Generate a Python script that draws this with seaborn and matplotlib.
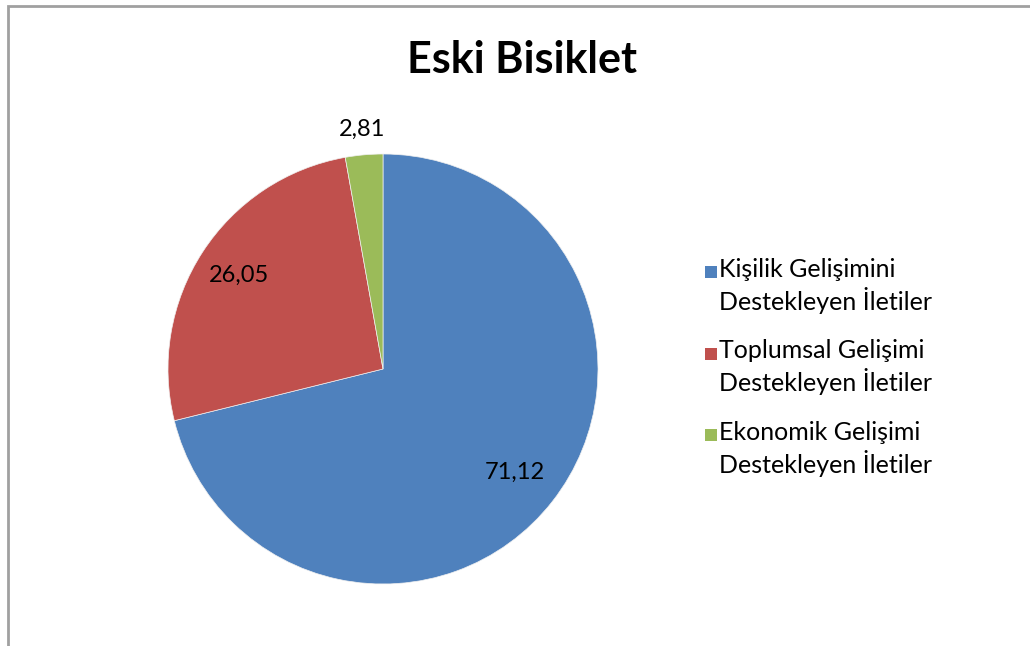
import numpy as np
import matplotlib
matplotlib.use("Agg")
import matplotlib.pyplot as plt
from matplotlib.patches import Rectangle
import seaborn as sns

# data
categories = [
    "Kişilik Gelişimini\nDestekleyen İletiler",
    "Toplumsal Gelişimi\nDestekleyen İletiler",
    "Ekonomik Gelişimi\nDestekleyen İletiler",
]
values = [71.12, 26.05, 2.81]
colors = ["#4F81BD", "#C0504D", "#9BBB59"]
title = "Eski Bisiklet"

sns.set_theme(style="white")
plt.rcParams["font.family"] = ["Lato", "DejaVu Sans"]

W, H = 1030, 646
fig = plt.figure(figsize=(W / 100, H / 100), dpi=100)
fig.patch.set_facecolor("white")

# chart border (Excel style, only top/left visible)
fig.add_artist(Rectangle((8 / W, -0.1), 1.2, 1.1 - 6 / H,
                         transform=fig.transFigure, fill=False,
                         edgecolor="#A0A0A0", linewidth=2))

ax = fig.add_axes([168 / W, 62 / H, 430 / W, 430 / H])
wedges, _ = ax.pie(values, colors=colors, startangle=90, counterclock=False,
                   radius=1, wedgeprops=dict(linewidth=0.5, edgecolor="#F0F0F0"))
ax.set_xlim(-1, 1)
ax.set_ylim(-1, 1)
ax.set_aspect("equal")
ax.axis("off")

# value labels
label_dist = [0.78, 0.80, 1.12]
for w, v, d in zip(wedges, values, label_dist):
    ang = np.deg2rad((w.theta1 + w.theta2) / 2)
    ax.text(d * np.cos(ang), d * np.sin(ang), f"{v:.2f}".replace(".", ","),
            ha="center", va="center", fontsize=17, color="black")

fig.text(522 / W, 1 - 60 / H, title, ha="center", va="center",
         fontsize=31, fontweight="bold", color="black")

# legend (marker aligned with first line, as in Excel)
leg_x, leg_y0, leg_step = 705, 272, 81.5
for i, (c, lab) in enumerate(zip(colors, categories)):
    y = leg_y0 + i * leg_step
    fig.add_artist(Rectangle((leg_x / W, 1 - (y + 6) / H), 12 / W, 12 / H,
                             transform=fig.transFigure, facecolor=c,
                             edgecolor="none"))
    fig.text((leg_x + 14) / W, 1 - (y - 14) / H, lab, ha="left", va="top",
             fontsize=18, linespacing=1.25, color="black")

plt.savefig("out.png", dpi=100)
